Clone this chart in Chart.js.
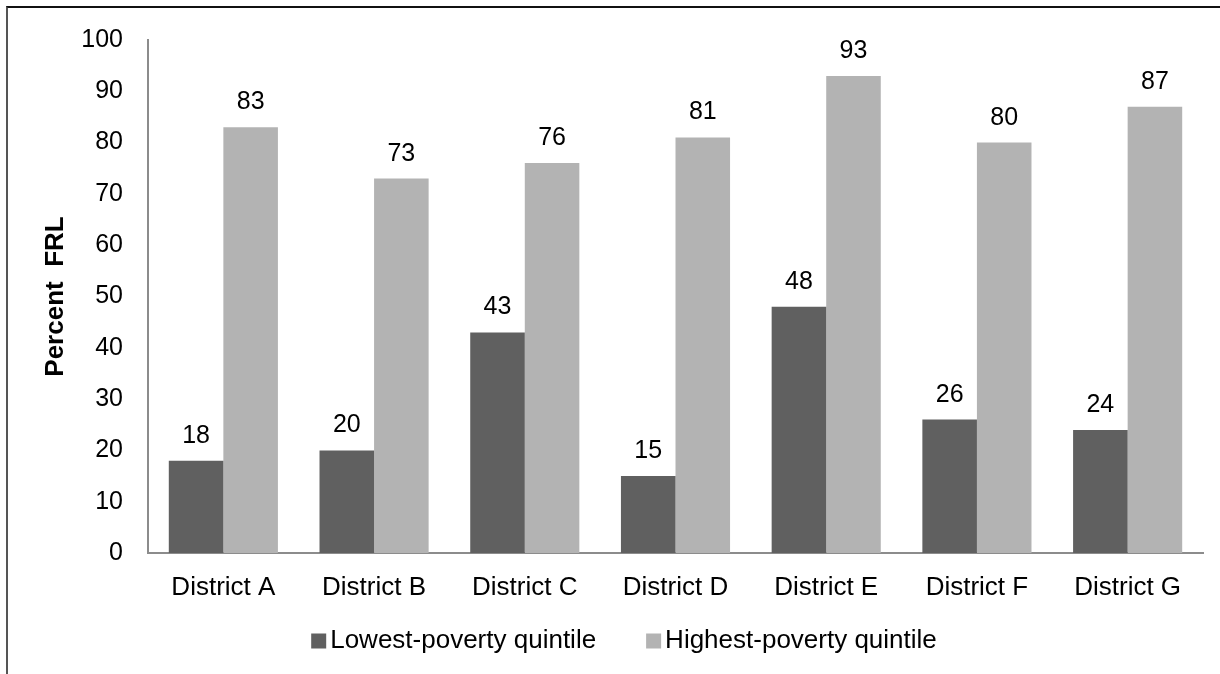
<!DOCTYPE html>
<html><head><meta charset="utf-8">
<script src="https://cdn.jsdelivr.net/npm/chart.js@4.4.1/dist/chart.umd.min.js"></script>
<style>
html,body{margin:0;padding:0;background:#fff;}
#wrap{position:relative;width:1220px;height:674px;overflow:hidden;}
#frame{position:absolute;left:6px;top:6px;width:1300px;height:700px;border-top:2px solid #111;border-left:2px solid #555;box-sizing:border-box;pointer-events:none;}
canvas{position:absolute;left:0;top:0;}
</style></head>
<body><div id="wrap"><canvas id="c" width="1220" height="674"></canvas><div id="frame"></div></div>
<script>
const categories = ['District A','District B','District C','District D','District E','District F','District G'];
const lowestPoverty = [18,20,43,15,48,26,24];
const highestPoverty = [83,73,76,81,93,80,87];
const seriesNames = ['Lowest-poverty quintile','Highest-poverty quintile'];
const seriesColors = ['#606060','#b3b3b3'];
const yTicks = [0,10,20,30,40,50,60,70,80,90,100];

const FONT = "'Liberation Sans', Arial, sans-serif";

const labelPlugin = {
  id:'barLabels',
  afterDatasetsDraw(chart){
    const ctx = chart.ctx;
    ctx.save();
    ctx.font = '25px ' + FONT;
    ctx.fillStyle = '#000';
    ctx.textAlign = 'center';
    ctx.textBaseline = 'alphabetic';
    chart.data.datasets.forEach((ds,i)=>{
      chart.getDatasetMeta(i).data.forEach((bar,j)=>{
        ctx.fillText(String(ds.data[j]), bar.x, bar.y - 18);
      });
    });
    ctx.restore();
  }
};

const legendPlugin = {
  id:'customLegend',
  afterDraw(chart){
    const ctx = chart.ctx;
    ctx.save();
    ctx.font = '26px ' + FONT;
    ctx.textBaseline = 'middle';
    ctx.textAlign = 'left';
    const box = 15, gapText = 4, gapItem = 50;
    const items = chart.data.datasets.map(ds=>({label:ds.label,color:ds.backgroundColor,w:ctx.measureText(ds.label).width}));
    let total = 0;
    items.forEach((it,i)=>{ total += box + gapText + it.w + (i ? gapItem : 0); });
    let x = 624 - total/2;
    const cy = 641;
    items.forEach((it,i)=>{
      if(i) x += gapItem;
      ctx.fillStyle = it.color;
      ctx.fillRect(x, cy - box/2, box, box);
      x += box + gapText;
      ctx.fillStyle = '#000';
      ctx.fillText(it.label, x, cy);
      x += it.w;
    });
    ctx.restore();
  }
};

new Chart(document.getElementById('c'),{
  type:'bar',
  data:{
    labels:categories,
    datasets:[
      {label:seriesNames[0],data:lowestPoverty,backgroundColor:seriesColors[0],categoryPercentage:0.724,barPercentage:1},
      {label:seriesNames[1],data:highestPoverty,backgroundColor:seriesColors[1],categoryPercentage:0.724,barPercentage:1}
    ]
  },
  options:{
    responsive:false,
    animation:false,
    devicePixelRatio:1,
    layout:{padding:{left:12,right:17,top:38,bottom:61}},
    plugins:{
      legend:{display:false},
      tooltip:{enabled:false}
    },
    scales:{
      x:{
        grid:{display:false,drawTicks:false},
        border:{display:true,color:'#8c8c8c',width:2},
        ticks:{color:'#000',font:{family:FONT,size:26},padding:19,maxRotation:0},
        afterFit(s){s.height=60;}
      },
      y:{
        min:0,max:100,
        afterBuildTicks(s){s.ticks = yTicks.map(v=>({value:v}));},
        grid:{display:false,drawTicks:false},
        border:{display:true,color:'#8c8c8c',width:2},
        ticks:{color:'#000',font:{family:FONT,size:25},padding:25},
        title:{display:true,text:'Percent  FRL',color:'#000',font:{family:FONT,size:26,weight:'bold'},padding:{top:28,bottom:0}},
        afterFit(s){s.width=136;}
      }
    }
  },
  plugins:[labelPlugin,legendPlugin]
});
</script>
</body></html>
